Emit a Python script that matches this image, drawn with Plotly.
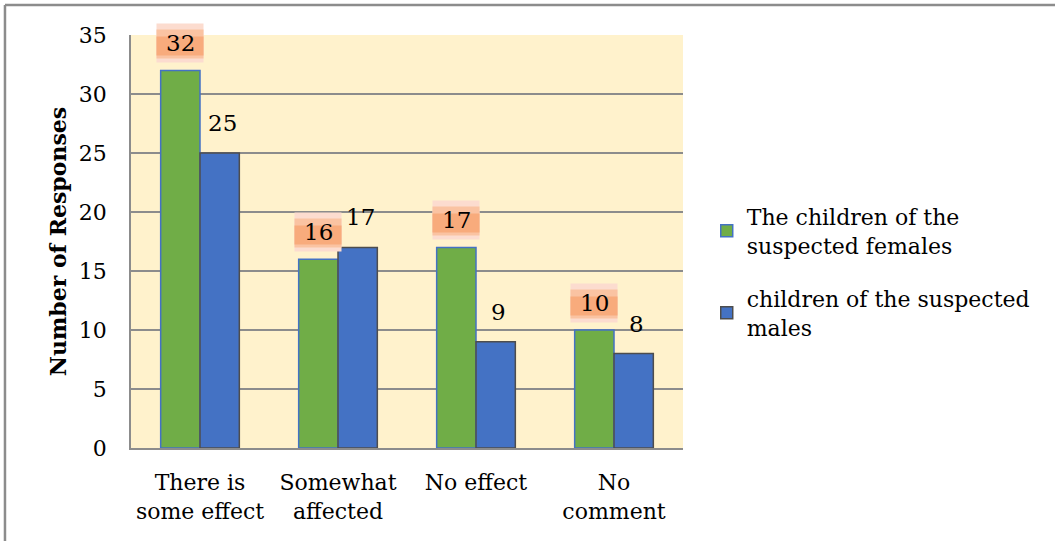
import plotly.graph_objects as go

categories = ["There is<br>some effect", "Somewhat<br>affected", "No effect", "No<br>comment"]
females = [32, 16, 17, 10]
males = [25, 17, 9, 8]
series_names = ["The children of the<br>suspected females", "children of the suspected<br>males"]
y_ticks = [0, 5, 10, 15, 20, 25, 30, 35]

FONT = "DejaVu Serif"
GREEN = "#70AD47"
BLUE = "#4472C4"

fig = go.Figure()
fig.add_trace(go.Bar(
    x=categories, y=females, name=series_names[0],
    marker=dict(color=GREEN, line=dict(color=BLUE, width=1.5)),
    legendgroup="a",
))
fig.add_trace(go.Bar(
    x=categories, y=males, name=series_names[1],
    marker=dict(color=BLUE, line=dict(color="#4d4d4d", width=1.5)),
    legendgroup="b",
))

annotations = []
# green labels with orange gradient-like background
for c, v in zip(categories, females):
    for bg, h, dy in [("#FCDCCF", 38, 0), ("#FAC3A2", 28, -1), ("#F8AB7C", 18, -3)]:
        annotations.append(dict(
            x=c, y=v, xref="x", yref="y", text=" ", showarrow=False,
            xshift=-20, yshift=27 + dy, yanchor="middle",
            width=46, height=h, bgcolor=bg, borderpad=0,
            font=dict(family=FONT, size=4),
        ))
    annotations.append(dict(
        x=c, y=v, xref="x", yref="y", text=str(v), showarrow=False,
        xshift=-20, yshift=27, yanchor="middle",
        font=dict(family=FONT, size=23, color="black"),
    ))
for c, v in zip(categories, males):
    annotations.append(dict(
        x=c, y=v, xref="x", yref="y", text=str(v), showarrow=False,
        xshift=22, yshift=30, yanchor="middle",
        font=dict(family=FONT, size=23, color="black"),
    ))

fig.update_layout(
    width=1055, height=541,
    margin=dict(l=131, r=372, t=35, b=93, autoexpand=False),
    paper_bgcolor="white",
    plot_bgcolor="#FFF2CC",
    barmode="group",
    bargap=0.43,
    bargroupgap=0,
    font=dict(family=FONT, size=22, color="black"),
    showlegend=True,
    legend=dict(
        x=1.043, y=0.426, xanchor="left", yanchor="middle",
        font=dict(family=FONT, size=22, color="black"),
        tracegroupgap=22, traceorder="grouped",
        bgcolor="rgba(0,0,0,0)",
    ),
    annotations=annotations,
    shapes=[
        dict(type="line", xref="paper", yref="paper", x0=-0.2283, x1=1.7, y0=1.0726, y1=1.0726,
             line=dict(color="#8c8c8c", width=2.5)),
        dict(type="line", xref="paper", yref="paper", x0=-0.2283, x1=-0.2283, y0=-0.3, y1=1.0726,
             line=dict(color="#8c8c8c", width=2.5)),
    ],
)
fig.update_yaxes(
    range=[0, 35], tickvals=y_ticks, ticktext=[str(t) for t in y_ticks],
    automargin=False,
    showgrid=True, gridcolor="#8c8c8c", gridwidth=1.5,
    showline=True, linecolor="#8c8c8c", linewidth=1.5,
    zeroline=False,
    ticks="outside", ticklen=18, tickcolor="rgba(0,0,0,0)",
    tickfont=dict(family=FONT, size=22),
    title=dict(text="<b>Number of Responses</b>", font=dict(family=FONT, size=22), standoff=6),
)
fig.update_xaxes(
    automargin=False,
    showline=True, linecolor="#8c8c8c", linewidth=1.5,
    ticks="outside", ticklen=14, tickcolor="rgba(0,0,0,0)",
    tickfont=dict(family=FONT, size=22),
)

fig.write_html("out.html", config={"displayModeBar": False},
               post_script="document.body.style.margin='0';")
